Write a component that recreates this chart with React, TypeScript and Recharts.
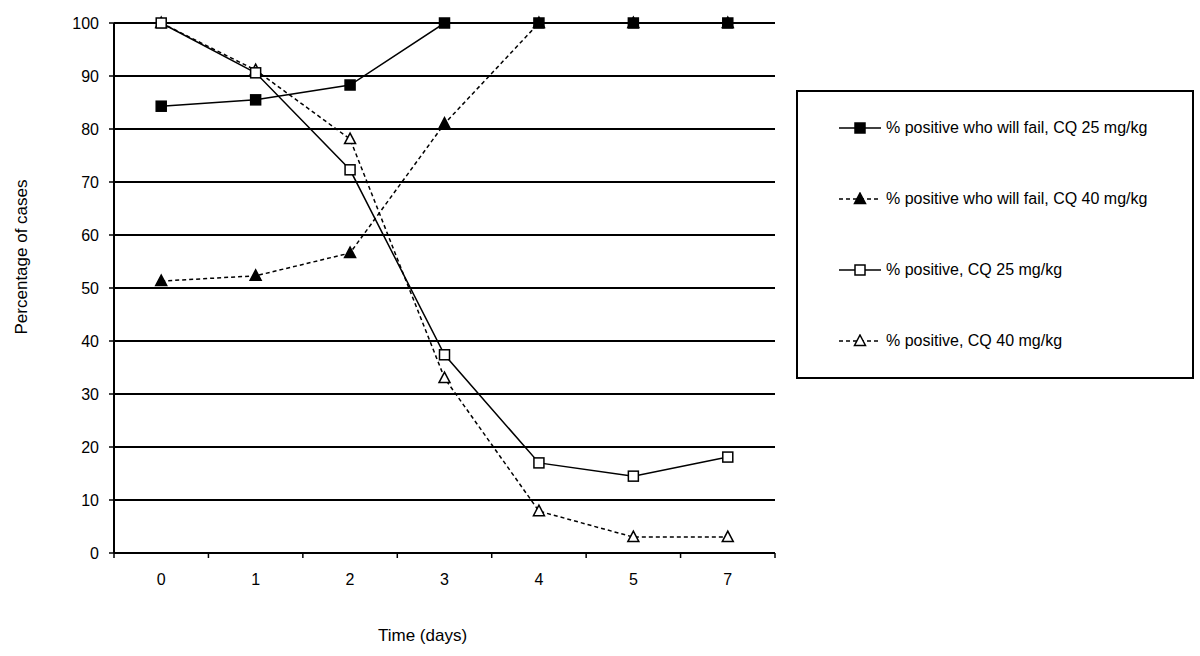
import {
  CartesianGrid,
  Legend,
  Line,
  LineChart,
  XAxis,
  YAxis,
} from 'recharts';

const days = ['0', '1', '2', '3', '4', '5', '7'];
const failCq25 = [84.3, 85.5, 88.3, 100, 100, 100, 100];
const failCq40 = [51.3, 52.3, 56.6, 81, 100, 100, 100];
const posCq25 = [100, 90.6, 72.3, 37.4, 17, 14.5, 18.1];
const posCq40 = [100, 91.1, 78.1, 33, 7.9, 3, 3];
const yTicks = [0, 10, 20, 30, 40, 50, 60, 70, 80, 90, 100];

const seriesNames = [
  '% positive who will fail, CQ 25 mg/kg',
  '% positive who will fail, CQ 40 mg/kg',
  '% positive, CQ 25 mg/kg',
  '% positive, CQ 40 mg/kg',
];

const data = days.map((day, i) => ({
  day,
  failCq25: failCq25[i],
  failCq40: failCq40[i],
  posCq25: posCq25[i],
  posCq40: posCq40[i],
}));

const W = 1200;
const H = 656;
const margin = { top: 23, right: 425, bottom: 43, left: 10 };
const Y_AXIS_W = 104;
const X_AXIS_H = 60;
const TICK_SIZE = 5;
const TICK_MARGIN = 16;
const PLOT_W = W - margin.left - margin.right - Y_AXIS_W;
const BAND = PLOT_W / days.length;
const FONT = '"Liberation Sans", Arial, sans-serif';

type Kind = 'square' | 'triangle';

const Marker = ({ cx, cy, kind, filled }: { cx: number; cy: number; kind: Kind; filled: boolean }) => {
  const fill = filled ? '#000' : '#fff';
  if (kind === 'square') {
    return <rect x={cx - 5} y={cy - 5} width={10} height={10} fill={fill} stroke='#000' strokeWidth={1.5} />;
  }
  return (
    <polygon
      points={`${cx},${cy - 6} ${cx + 5.5},${cy + 4.5} ${cx - 5.5},${cy + 4.5}`}
      fill={fill}
      stroke='#000'
      strokeWidth={1.5}
    />
  );
};

const makeDot = (kind: Kind, filled: boolean) => (props: any) => {
  const { cx, cy, index } = props;
  if (cx == null || cy == null) return <g key={index} />;
  return <Marker key={index} cx={cx} cy={cy} kind={kind} filled={filled} />;
};

const legendItems: { name: string; kind: Kind; filled: boolean; dashed: boolean }[] = [
  { name: seriesNames[0], kind: 'square', filled: true, dashed: false },
  { name: seriesNames[1], kind: 'triangle', filled: true, dashed: true },
  { name: seriesNames[2], kind: 'square', filled: false, dashed: false },
  { name: seriesNames[3], kind: 'triangle', filled: false, dashed: true },
];

const renderLegend = () => (
  <div
    style={{
      width: '100%',
      height: '100%',
      boxSizing: 'border-box',
      border: '2px solid #000',
      background: '#fff',
      display: 'flex',
      flexDirection: 'column',
      justifyContent: 'space-around',
      fontFamily: FONT,
      fontSize: 16,
      color: '#000',
    }}
  >
    {legendItems.map((item) => (
      <div key={item.name} style={{ display: 'flex', alignItems: 'center', paddingLeft: 39 }}>
        <svg width={46} height={14} style={{ marginRight: 3 }}>
          <line
            x1={2}
            y1={7}
            x2={44}
            y2={7}
            stroke='#000'
            strokeWidth={1.5}
            strokeDasharray={item.dashed ? '4 3' : undefined}
          />
          <Marker cx={23} cy={7} kind={item.kind} filled={item.filled} />
        </svg>
        <span>{item.name}</span>
      </div>
    ))}
  </div>
);

const XTick = (props: any) => {
  const { x, y, payload, index } = props;
  const axisY = y - TICK_SIZE - TICK_MARGIN;
  const left = x - BAND / 2;
  const right = x + BAND / 2;
  return (
    <g>
      <line x1={left} y1={axisY} x2={left} y2={axisY + TICK_SIZE} stroke='#000' strokeWidth={1.5} />
      {index === days.length - 1 && (
        <line x1={right} y1={axisY} x2={right} y2={axisY + TICK_SIZE} stroke='#000' strokeWidth={1.5} />
      )}
      <text x={x} y={y} dy='0.71em' textAnchor='middle' fill='#000' fontSize={16} fontFamily={FONT}>
        {payload.value}
      </text>
    </g>
  );
};

const YLabel = (props: any) => {
  const { viewBox } = props;
  const cx = 27;
  const cy = viewBox.y + viewBox.height / 2 - 31;
  return (
    <text
      x={cx}
      y={cy}
      transform={`rotate(-90, ${cx}, ${cy})`}
      textAnchor='middle'
      fill='#000'
      fontSize={17}
      fontFamily={FONT}
    >
      Percentage of cases
    </text>
  );
};

export default function App() {
  return (
    <div style={{ position: 'absolute', left: 0, top: 0, width: W, height: H, background: '#fff' }}>
      <LineChart width={W} height={H} data={data} margin={margin}>
        <CartesianGrid horizontal vertical={false} stroke='#000' strokeWidth={2} />
        <XAxis
          dataKey='day'
          height={X_AXIS_H}
          padding={{ left: BAND / 2, right: BAND / 2 }}
          tickSize={TICK_SIZE}
          tickMargin={TICK_MARGIN}
          tickLine={false}
          axisLine={{ stroke: '#000', strokeWidth: 2 }}
          tick={<XTick />}
          interval={0}
          label={{
            value: 'Time (days)',
            position: 'bottom',
            offset: 16,
            dx: -22,
            style: { fontFamily: FONT, fontSize: 17, fill: '#000' },
          }}
        />
        <YAxis
          width={Y_AXIS_W}
          domain={[0, 100]}
          ticks={yTicks}
          interval={0}
          tickSize={5}
          tickMargin={10}
          tickLine={{ stroke: '#000', strokeWidth: 1.5 }}
          axisLine={{ stroke: '#000', strokeWidth: 2 }}
          tick={{ fill: '#000', fontSize: 16, fontFamily: FONT }}
          label={<YLabel />}
        />
        <YAxis
          yAxisId='right'
          orientation='right'
          width={0}
          domain={[0, 100]}
          tick={false}
          tickLine={false}
          axisLine={{ stroke: '#000', strokeWidth: 2 }}
        />
        <Legend
          layout='vertical'
          align='center'
          verticalAlign='middle'
          wrapperStyle={{ left: 796, top: 90, width: 398, height: 289 }}
          content={renderLegend}
        />
        <Line
          dataKey='failCq40'
          name={seriesNames[1]}
          stroke='#000'
          strokeWidth={1.5}
          strokeDasharray='4 3'
          dot={makeDot('triangle', true)}
          isAnimationActive={false}
        />
        <Line
          dataKey='failCq25'
          name={seriesNames[0]}
          stroke='#000'
          strokeWidth={1.5}
          dot={makeDot('square', true)}
          isAnimationActive={false}
        />
        <Line
          dataKey='posCq40'
          name={seriesNames[3]}
          stroke='#000'
          strokeWidth={1.5}
          strokeDasharray='4 3'
          dot={makeDot('triangle', false)}
          isAnimationActive={false}
        />
        <Line
          dataKey='posCq25'
          name={seriesNames[2]}
          stroke='#000'
          strokeWidth={1.5}
          dot={makeDot('square', false)}
          isAnimationActive={false}
        />
      </LineChart>
    </div>
  );
}
